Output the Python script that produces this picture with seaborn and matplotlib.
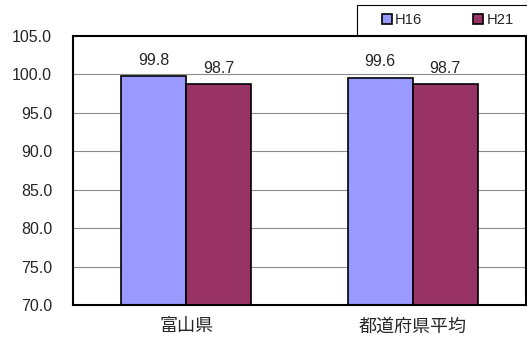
import matplotlib
matplotlib.use("Agg")
import matplotlib.pyplot as plt
import seaborn as sns
import pandas as pd
from matplotlib.patches import Patch, Rectangle

categories = ["富山県", "都道府県平均"]
series_names = ["H16", "H21"]
h16 = [99.8, 99.6]
h21 = [98.7, 98.7]
colors = ["#9999FF", "#993366"]

df = pd.DataFrame({
    "region": categories * 2,
    "year": ["H16"] * 2 + ["H21"] * 2,
    "value": h16 + h21,
})

sns.set_style("white")
plt.rcParams["font.family"] = ["Liberation Sans", "Noto Sans CJK JP", "DejaVu Sans"]

W, H = 527, 341
fig = plt.figure(figsize=(W / 100, H / 100), dpi=100)
ax = fig.add_axes([73/W, 36/H, 453/W, 269/H])

sns.barplot(data=df, x="region", y="value", hue="year", palette=colors,
            width=0.574, edgecolor="black", linewidth=1.2, ax=ax, legend=False,
            saturation=1)

yt = [70, 75, 80, 85, 90, 95, 100, 105]
ax.set_ylim(70, 105)
ax.set_yticks(yt)
ax.set_yticklabels([f"{v:.1f}" for v in yt], fontsize=11.5)
for y in [75, 80, 85, 90, 95, 100]:
    ax.axhline(y, color="#8c8c8c", linewidth=0.8, zorder=0)
ax.set_xlabel("")
ax.set_ylabel("")
ax.set_xticks([0, 1])
ax.set_xticklabels(categories, fontsize=13, family=["Noto Sans CJK JP", "DejaVu Sans"])
ax.set_xticks([0.5], minor=True)
ax.tick_params(axis="x", which="minor", direction="in", length=5, width=1, color="black")
ax.tick_params(axis="x", which="major", length=0, pad=9)
ax.tick_params(axis="y", length=0, pad=15)
for s in ax.spines.values():
    s.set_color("black")
    s.set_linewidth(1.5)

for cont in ax.containers:
    ax.bar_label(cont, fmt="%.1f", padding=6, fontsize=11.5)

# legend frame with shadow
fig.patches.append(Rectangle((359/W, 1 - 37/H), 200/W, 30/H, transform=fig.transFigure,
                             facecolor="black", edgecolor="none", zorder=5))
fig.patches.append(Rectangle((357/W, 1 - 35/H), 200/W, 30/H, transform=fig.transFigure,
                             facecolor="white", edgecolor="black", linewidth=0.8, zorder=6))

handles = [Patch(facecolor=c, edgecolor="black", linewidth=1.2) for c in colors]
fs = 10.6
em = fs * 100 / 72
leg = fig.legend(handles, series_names, loc="center left",
                 bbox_to_anchor=(382/W, 1 - 20/H), borderaxespad=0, borderpad=0,
                 ncol=2, frameon=False, fontsize=fs,
                 handlelength=10/em, handleheight=10/em, columnspacing=51/em,
                 handletextpad=3/em)
leg.set_zorder(7)

fig.savefig("out.png", dpi=100)
